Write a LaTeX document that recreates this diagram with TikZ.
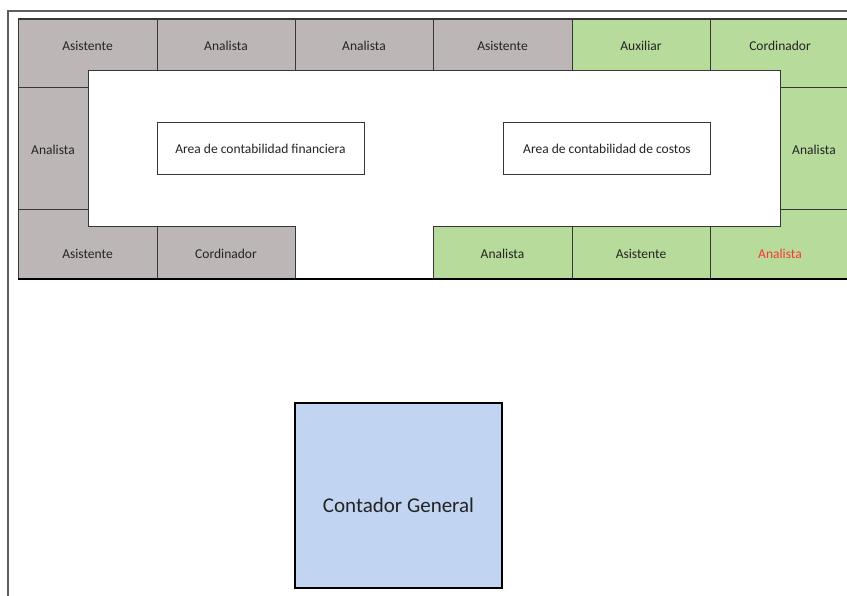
\documentclass[tikz,border=0pt]{standalone}
\usepackage{fontspec}
\setmainfont{Carlito}
\definecolor{deskgrey}{RGB}{188,183,182}
\definecolor{deskgreen}{RGB}{183,219,154}
\definecolor{bossblue}{RGB}{193,213,243}
\definecolor{edge}{RGB}{55,55,55}
\definecolor{frameline}{RGB}{95,95,95}
\definecolor{txt}{RGB}{35,35,35}
\definecolor{alert}{RGB}{250,55,50}
\begin{document}
\begin{tikzpicture}[x=1pt,y=-1pt,
  grey desk/.style={fill=deskgrey,draw=edge,line width=1pt},
  green desk/.style={fill=deskgreen,draw=edge,line width=1pt},
  desk label/.style={font=\fontsize{13.5}{15}\selectfont,text=txt,inner sep=0pt},
  area box/.style={draw=edge,fill=white,line width=1pt,minimum width=207pt,minimum height=52pt,
    font=\fontsize{13.5}{15}\selectfont,text=txt,inner sep=0pt}]
\useasboundingbox (0,0) rectangle (847,596);
\clip (0,0) rectangle (847,596);
\fill[white] (0,0) rectangle (847,596);

% outer frame
\draw[frameline,line width=2pt] (847,11) -- (8,11) -- (8,596);

% grey desks
\draw[grey desk] (18,19) -- (157,19) -- (157,71) -- (88,71) -- (88,88) -- (18,88) -- cycle;
\draw[grey desk] (157,19) rectangle (295,71);
\draw[grey desk] (295,19) rectangle (433,71);
\draw[grey desk] (433,19) rectangle (572,71);
\draw[grey desk] (18,88) rectangle (88,210);
\draw[grey desk] (18,210) -- (88,210) -- (88,227) -- (157,227) -- (157,279) -- (18,279) -- cycle;
\draw[grey desk] (157,227) rectangle (295,279);

% green desks
\draw[green desk] (572,19) rectangle (710,71);
\draw[green desk] (710,19) -- (850,19) -- (850,88) -- (780,88) -- (780,71) -- (710,71) -- cycle;
\draw[green desk] (780,88) rectangle (850,210);
\draw[green desk] (433,227) rectangle (572,279);
\draw[green desk] (572,227) rectangle (710,279);
\draw[green desk] (710,227) -- (780,227) -- (780,210) -- (850,210) -- (850,279) -- (710,279) -- cycle;

% heavy top and bottom edges of the office
\draw[edge,line width=2pt] (18,19) -- (850,19);
\draw[black,line width=2pt] (18,279) -- (850,279);

% desk labels
\node[desk label] (d1) at (87.5,46) {Asistente};
\node[desk label] (d2) at (226,46) {Analista};
\node[desk label] (d3) at (364,46) {Analista};
\node[desk label] (d4) at (502.5,46) {Asistente};
\node[desk label] (d5) at (641,46) {Auxiliar};
\node[desk label] (d6) at (780,46) {Cordinador};
\node[desk label] (d7) at (53,150) {Analista};
\node[desk label] (d8) at (814,150) {Analista};
\node[desk label] (d9) at (87.5,254) {Asistente};
\node[desk label] (d10) at (226,254) {Cordinador};
\node[desk label] (d11) at (502.5,254) {Analista};
\node[desk label] (d12) at (641,254) {Asistente};
\node[desk label,text=alert] (d13) at (780,254) {Analista};

% work areas
\node[area box] (fin) at (260.5,149) {Area de contabilidad financiera};
\node[area box] (cost) at (607,149) {Area de contabilidad de costos};

% head accountant
\node[draw=black,fill=bossblue,line width=2pt,minimum width=207pt,minimum height=185pt,
  inner sep=0pt] (boss) at (398.5,495) {};
\node[font=\fontsize{21}{25}\selectfont,text=txt,inner sep=0pt] (bosslabel) at (398.5,505) {Contador General};
\end{tikzpicture}
\end{document}
